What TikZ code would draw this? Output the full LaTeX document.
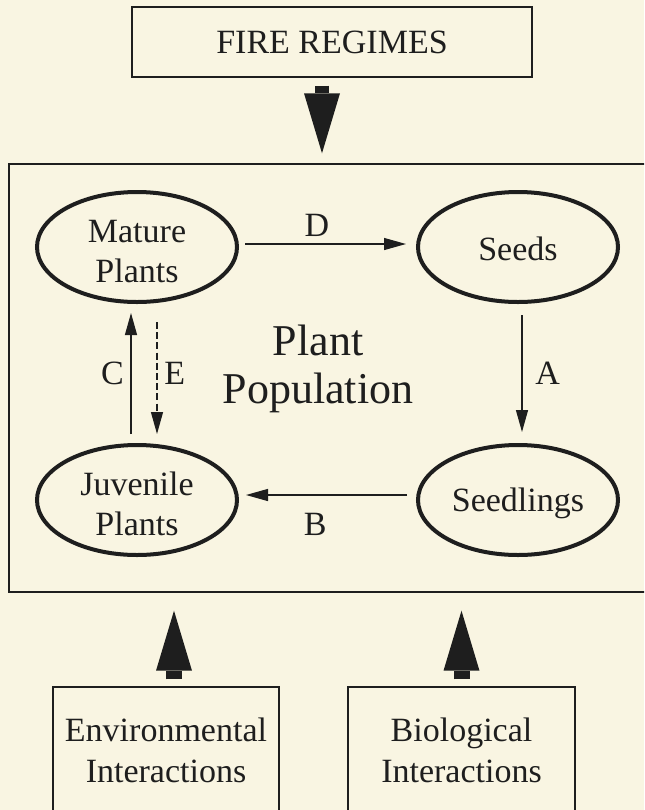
\documentclass[tikz,border=0pt]{standalone}
\usepackage{fontspec}
\setmainfont{Liberation Serif}
\usepackage{tikz}
\usetikzlibrary{positioning, arrows.meta, shapes.geometric, calc}
\definecolor{bgcream}{RGB}{249,245,226}
\definecolor{inkgray}{RGB}{30,30,30}
\newcommand{\topstrut}{\rule{0pt}{15.5pt}}

\tikzset{
  stage/.style={ellipse, draw=inkgray, line width=2pt, inner sep=0pt, minimum width=100pt, minimum height=55pt, align=center, text=inkgray, font=\fontsize{17}{20}\selectfont},
  factor/.style={rectangle, draw=inkgray, line width=0.7pt, align=center, text=inkgray, font=\fontsize{17}{20.5}\selectfont},
  flow/.style={draw=inkgray, line width=0.6pt, -{Triangle[length=11pt,width=6pt]}},
  bigarrow/.style={draw=inkgray, -{Triangle[length=30pt,width=18pt,line width=0pt]}},
  letter/.style={text=inkgray, font=\fontsize{17}{20}\selectfont}
}

\begin{document}
\begin{tikzpicture}[x=1pt,y=1pt,node distance=190.5pt]
  \path[use as bounding box, fill=bgcream] (0,0) rectangle (322,-405);
  \clip (0,0) rectangle (322,-405);

  % boxes
  \node (fire) [factor, minimum width=200pt, minimum height=35pt] at (166,-21) {FIRE REGIMES};
  \node (plantbox) [rectangle, draw=inkgray, line width=0.7pt, minimum width=320.5pt, minimum height=214pt] at (164.75,-189) {};
  \node (env) [factor, minimum width=113pt, minimum height=63pt] at (83,-375) {Environmental\\Interactions};
  \node (bio) [factor, minimum width=113.5pt, minimum height=63pt, right of=env, node distance=147.75pt] {Biological\\Interactions};

  % life stages
  \node (mature) [stage] at (68.5,-123.5) {\topstrut Mature\\Plants};
  \node (seeds) [stage, right of=mature, text height=13.5pt, text depth=0pt] {Seeds};
  \node (juvenile) [stage, below of=mature, node distance=126.5pt] {\topstrut Juvenile\\Plants};
  \node (seedlings) [stage, right of=juvenile, text depth=0pt] {Seedlings};
  \node (pop) [align=center, text=inkgray, font=\fontsize{22}{24}\selectfont] at (159,-184.5) {Plant\\Population};

  \draw[flow, shorten <=3pt, shorten >=5pt] ([yshift=1.5pt]mature.east) -- node[letter, above, pos=0.44] {D} ([yshift=1.5pt]seeds.west);
  \draw[flow, shorten <=5.5pt, shorten >=5.5pt] ([xshift=2pt]seeds.south) -- node[letter, right, xshift=3pt] {A} ([xshift=2pt]seedlings.north);
  \draw[flow, shorten <=4.5pt, shorten >=3.5pt] ([yshift=2.5pt]seedlings.west) -- node[letter, below, yshift=-5.5pt, pos=0.57] {B} ([yshift=2.5pt]juvenile.east);
  \draw[flow, shorten <=4.5pt, shorten >=4.5pt] ([xshift=-3pt]juvenile.north) -- node[letter, left] {C} ([xshift=-3pt]mature.south);
  \draw[flow, dash pattern=on 3.5pt off 1.6pt, shorten <=9pt, shorten >=4.5pt] ([xshift=10pt]mature.south) -- node[letter, right] {E} ([xshift=10pt]juvenile.north);

  % outside influences
  \draw[bigarrow, line width=7pt, shorten <=4pt, shorten >=5pt] ([xshift=-5pt]fire.south) -- ([xshift=-5pt]fire.south |- plantbox.north);
  \draw[bigarrow, line width=8pt, shorten <=3.5pt, shorten >=9pt] ([xshift=4pt]env.north) -- ([xshift=4pt]env.north |- plantbox.south);
  \draw[bigarrow, line width=8pt, shorten <=3.5pt, shorten >=9pt] (bio.north) -- (bio.north |- plantbox.south);
\end{tikzpicture}
\end{document}
